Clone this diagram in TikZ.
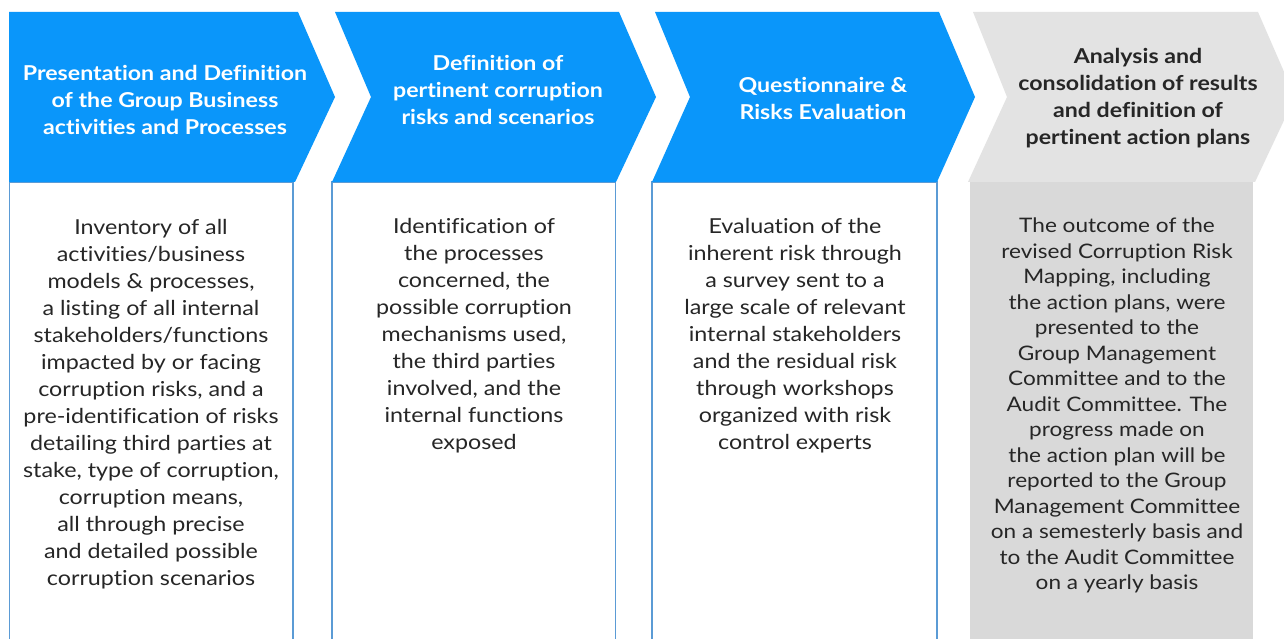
\documentclass[tikz,border=0pt]{standalone}
\usepackage{fontspec}
\setmainfont{Lato}[Ligatures=NoCommon,FakeStretch=1.13]
\definecolor{chevblue}{HTML}{0A96FA}
\definecolor{boxblue}{HTML}{5B9BD5}
\definecolor{chevgray}{HTML}{E3E3E3}
\definecolor{boxgray}{HTML}{D9D9D9}
\definecolor{txt}{HTML}{262626}
\begin{document}
\begin{tikzpicture}[x=1pt,y=-1pt,
  headtxt/.style={align=center,inner sep=0pt,font=\fontsize{20.5}{27}\selectfont\bfseries},
  bodytxt/.style={align=center,inner sep=0pt,text=txt,font=\fontsize{20.6}{27}\selectfont},
  bodytxtb/.style={align=center,inner sep=0pt,text=txt,font=\fontsize{20}{25.5}\selectfont},
  whitebox/.style={draw=boxblue,line width=1.5pt,fill=white},
  graybox/.style={fill=boxgray}]
\useasboundingbox (0,0) rectangle (1284,639);
\clip (0,0) rectangle (1284,639);
\fill[white] (0,0) rectangle (1284,639);
% boxes
\draw[whitebox] (9.5,182) rectangle (293,660);
\draw[whitebox] (332,182) rectangle (615.5,660);
\draw[whitebox] (652,182) rectangle (937,660);
\fill[graybox] (970,182) rectangle (1253,660);
% chevrons
\fill[chevblue] (9,12) -- (298,12) -- (335,97) -- (295,182) -- (9,182) -- cycle;
\fill[chevblue] (335,12) -- (619,12) -- (656,97) -- (616,182) -- (332,182) -- (371,97) -- cycle;
\fill[chevblue] (655,12) -- (939,12) -- (975,97) -- (937,182) -- (652,182) -- (690,97) -- cycle;
\fill[chevgray] (973,12) -- (1258,12) -- (1295,97) -- (1255,182) -- (968,182) -- (1007,97) -- cycle;
% headers
\node[headtxt,text=white] (h1) at (165,100) {Presentation and Definition\\of the Group Business\\activities and Processes};
\node[headtxt,text=white] (h2) at (498,90) {Definition of\\pertinent corruption\\risks and scenarios};
\node[headtxt,text=white] (h3) at (823,98.5) {Questionnaire \&\\Risks Evaluation};
\node[headtxt,text=txt] (h4) at (1138,98) {Analysis and\\consolidation of results\\and definition of\\pertinent action plans};
% bodies
\node[bodytxt] (b1) at (151,404.5) {Inventory of all\\activities/business\\models \& processes,\\a listing of all internal\\stakeholders/functions\\impacted by or facing\\corruption risks, and a\\pre-identification of risks\\detailing third parties at\\stake, type of corruption,\\corruption means,\\all through precise\\and detailed possible\\corruption scenarios};
\node[bodytxt] (b2) at (474,336) {Identification of\\the processes\\concerned, the\\possible corruption\\mechanisms used,\\the third parties\\involved, and the\\internal functions\\exposed};
\node[bodytxt] (b3) at (795,336) {Evaluation of the\\inherent risk through\\a survey sent to a\\large scale of relevant\\internal stakeholders\\and the residual risk\\through workshops\\organized with risk\\control experts};
\node[bodytxtb] (b4) at (1117,405.5) {The outcome of the\\revised Corruption Risk\\Mapping, including\\the action plans, were\\presented to the\\Group Management\\Committee and to the\\Audit Committee. The\\progress made on\\the action plan will be\\reported to the Group\\Management Committee\\on a semesterly basis and\\to the Audit Committee\\on a yearly basis};
\end{tikzpicture}
\end{document}
